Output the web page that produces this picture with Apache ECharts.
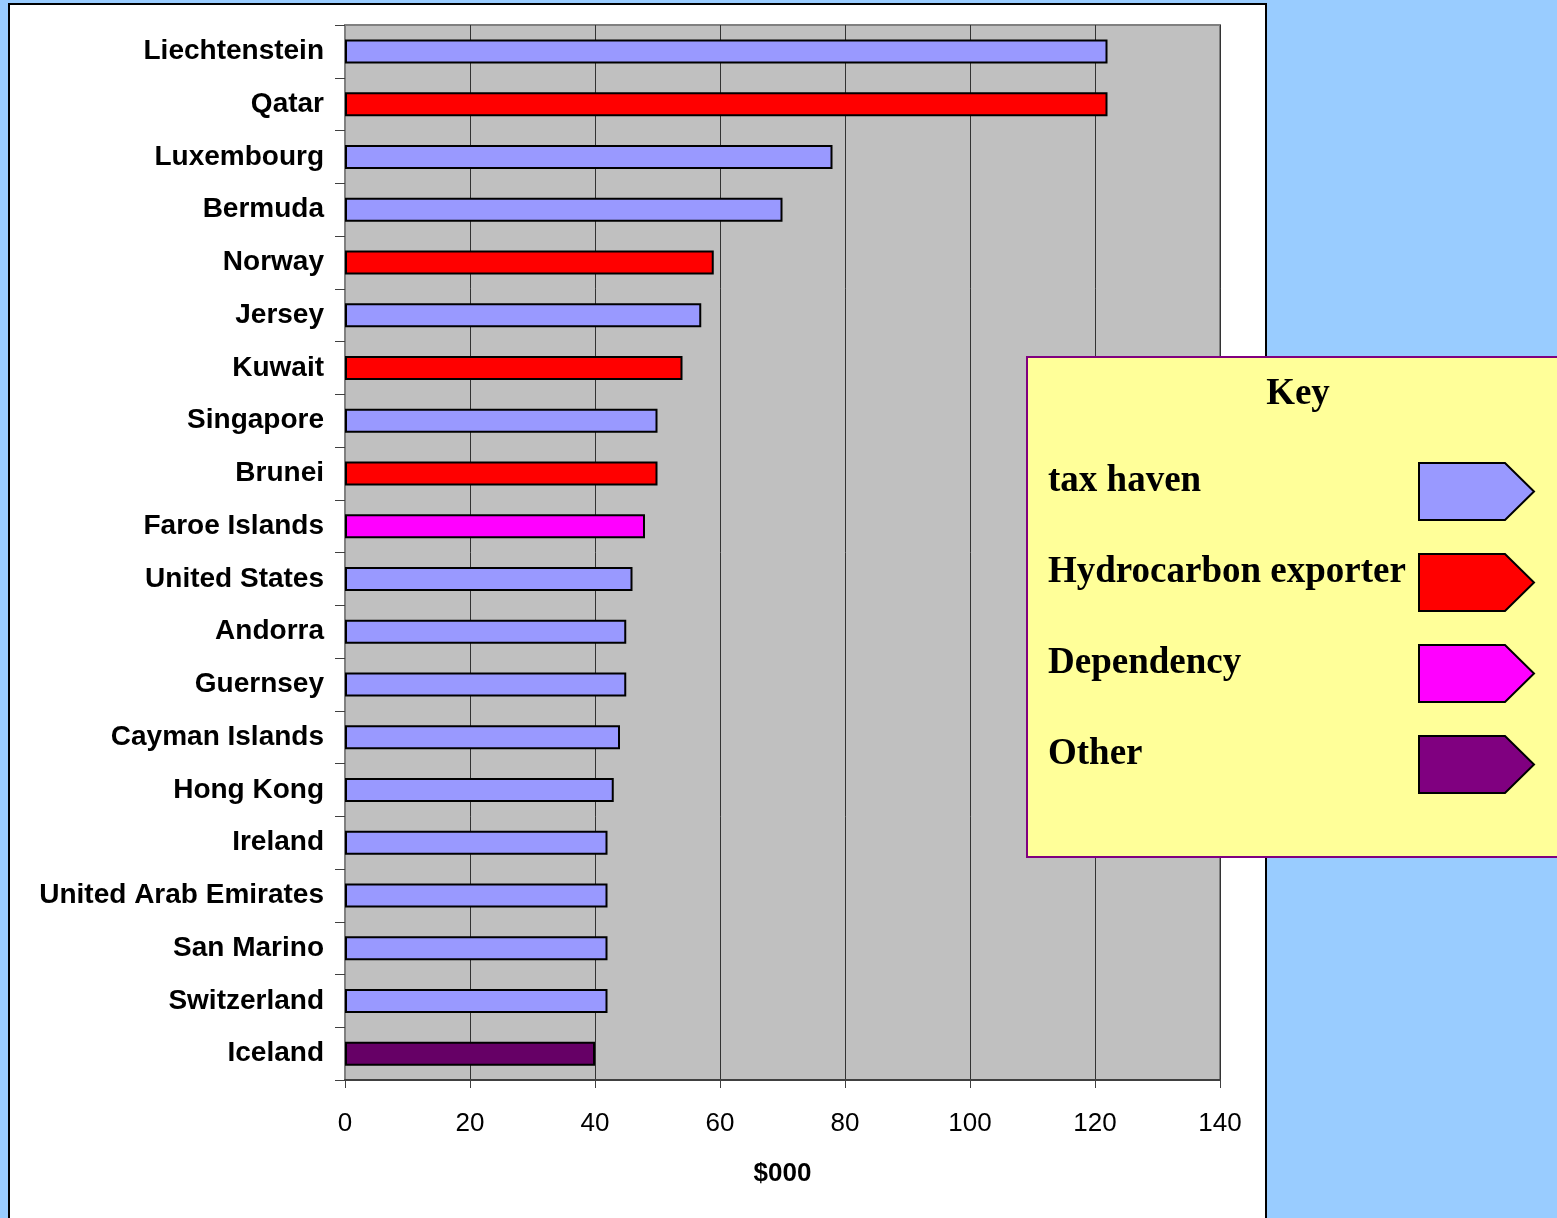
<!DOCTYPE html>
<html>
<head>
<meta charset="utf-8">
<script src="https://cdn.jsdelivr.net/npm/echarts@6/dist/echarts.min.js"></script>
<style>
  html, body { margin: 0; padding: 0; background: #99ccff; overflow: hidden; }
  #panel { position: absolute; left: 8px; top: 3px; width: 1259px; height: 1300px; background: #ffffff; border: 2px solid #000; box-sizing: border-box; }
  #chart { position: absolute; left: 0; top: 0; width: 1557px; height: 1218px; }
</style>
</head>
<body>
<div id="panel"></div>
<div id="chart"></div>
<script>
// ---- data ----
const countries = ['Liechtenstein', 'Qatar', 'Luxembourg', 'Bermuda', 'Norway', 'Jersey', 'Kuwait', 'Singapore', 'Brunei', 'Faroe Islands', 'United States', 'Andorra', 'Guernsey', 'Cayman Islands', 'Hong Kong', 'Ireland', 'United Arab Emirates', 'San Marino', 'Switzerland', 'Iceland'];
const values = [122, 122, 78, 70, 59, 57, 54, 50, 50, 48, 46, 45, 45, 44, 43, 42, 42, 42, 42, 40];
const groups = ['tax haven', 'Hydrocarbon exporter', 'tax haven', 'tax haven', 'Hydrocarbon exporter', 'tax haven', 'Hydrocarbon exporter', 'tax haven', 'Hydrocarbon exporter', 'Dependency', 'tax haven', 'tax haven', 'tax haven', 'tax haven', 'tax haven', 'tax haven', 'tax haven', 'tax haven', 'tax haven', 'Other'];
const groupNames = ['tax haven', 'Hydrocarbon exporter', 'Dependency', 'Other'];
const xTicks = [0, 20, 40, 60, 80, 100, 120, 140];
const axisTitle = '$000';
const keyTitle = 'Key';

// ---- styles ----
const barColors = { 'tax haven': '#9999ff', 'Hydrocarbon exporter': '#ff0000', 'Dependency': '#ff00ff', 'Other': '#660066' };
const keyColors = { 'tax haven': '#9999ff', 'Hydrocarbon exporter': '#ff0000', 'Dependency': '#ff00ff', 'Other': '#800080' };

const series = groupNames.map(g => ({
  name: g,
  type: 'bar',
  stack: 'all',
  barWidth: 24,
  itemStyle: { color: barColors[g], borderColor: '#000', borderWidth: 2 },
  data: values.map((v, i) => groups[i] === g ? v : '-')
}));

const chart = echarts.init(document.getElementById('chart'), null, { renderer: 'canvas' });
chart.setOption({
  animation: false,
  backgroundColor: 'transparent',
  title: {
    text: keyTitle,
    left: 1293,
    top: 371,
    textAlign: 'center',
    z: 10,
    textStyle: { fontFamily: 'Liberation Serif', fontWeight: 'bold', fontSize: 37, color: '#000' }
  },
  grid: {
    left: 345, right: 337, top: 25, bottom: 138,
    show: true, backgroundColor: '#c0c0c0', borderColor: '#808080', borderWidth: 2
  },
  xAxis: {
    type: 'value',
    min: 0, max: 140, interval: 20,
    name: axisTitle,
    nameLocation: 'middle',
    nameGap: 81,
    nameTextStyle: { fontFamily: 'Liberation Sans', fontWeight: 'bold', fontSize: 26, color: '#000' },
    axisLine: { show: true, lineStyle: { color: '#404040', width: 2 } },
    axisTick: { show: true, length: 8, lineStyle: { color: '#404040', width: 1 } },
    axisLabel: { fontFamily: 'Liberation Sans', fontSize: 26, color: '#000', margin: 31,
      formatter: v => xTicks.includes(v) ? String(v) : '' },
    splitLine: { show: true, lineStyle: { color: '#333333', width: 1 } }
  },
  yAxis: {
    type: 'category',
    data: countries,
    inverse: true,
    axisLine: { show: true, lineStyle: { color: '#808080', width: 2 } },
    axisTick: { show: true, length: 10, lineStyle: { color: '#404040', width: 1 } },
    axisLabel: { fontFamily: 'Liberation Sans', fontWeight: 'bold', fontSize: 28, color: '#000', margin: 21, padding: [4, 0, 0, 0] },
    splitLine: { show: false }
  },
  legend: {
    orient: 'vertical',
    left: 1027, top: 357,
    padding: [105, 45, 63, 21],
    backgroundColor: '#ffff99',
    borderColor: '#800080',
    borderWidth: 2,
    borderRadius: 0,
    align: 'right',
    itemWidth: 115,
    itemHeight: 57,
    itemGap: 32,
    selectedMode: false,
    icon: 'path://M0,0 L86,0 L115,28.5 L86,57 L0,57 Z',
    itemStyle: { borderColor: '#000', borderWidth: 2 },
    formatter: '{a|{name}}',
    textStyle: {
      color: '#000',
      rich: {
        a: { width: 366, align: 'left', fontFamily: 'Liberation Serif', fontWeight: 'bold', fontSize: 37, lineHeight: 36, padding: [0, 0, 20, 0], color: '#000' }
      }
    },
    data: groupNames.map(g => ({ name: g, itemStyle: { color: keyColors[g] } }))
  },
  series: series
});
</script>
</body>
</html>
